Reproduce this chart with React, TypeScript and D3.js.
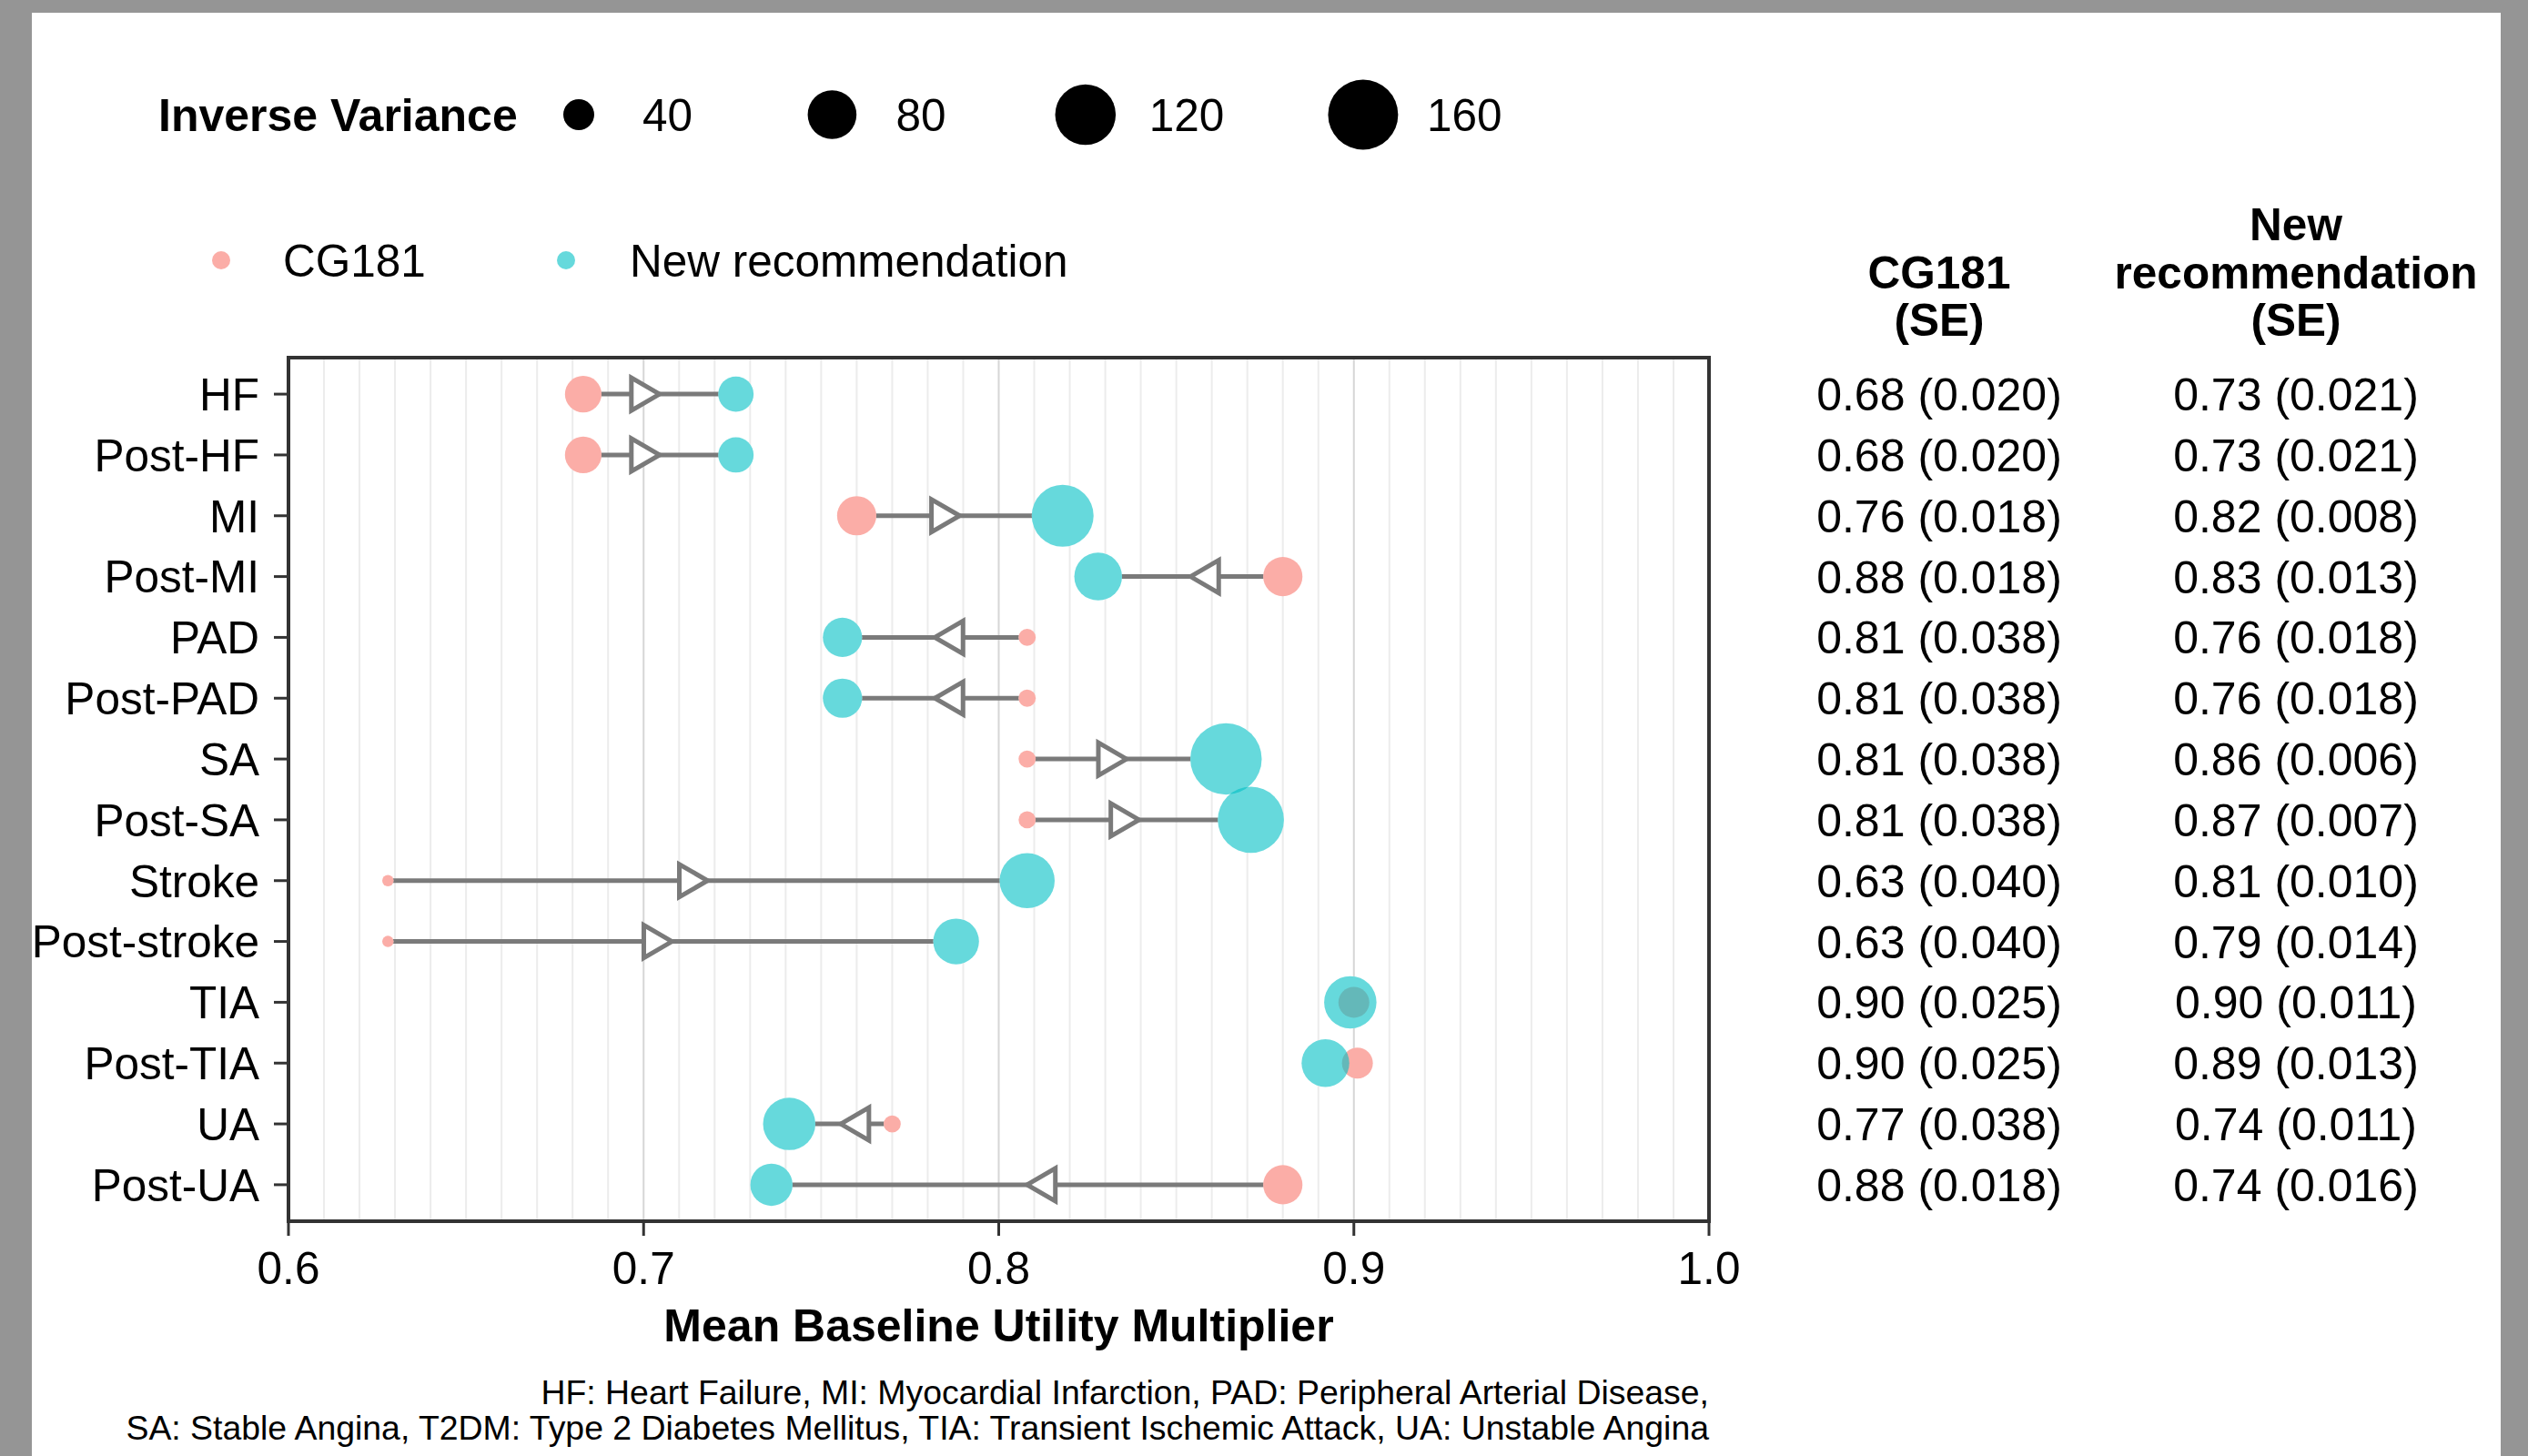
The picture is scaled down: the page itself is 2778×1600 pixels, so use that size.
import * as d3 from 'd3';

const conditions = ['HF', 'Post-HF', 'MI', 'Post-MI', 'PAD', 'Post-PAD', 'SA', 'Post-SA', 'Stroke', 'Post-stroke', 'TIA', 'Post-TIA', 'UA', 'Post-UA'];
const cg181Mean = [0.683, 0.683, 0.76, 0.88, 0.808, 0.808, 0.808, 0.808, 0.628, 0.628, 0.9, 0.901, 0.77, 0.88];
const cg181SE = [0.02, 0.02, 0.018, 0.018, 0.038, 0.038, 0.038, 0.038, 0.04, 0.04, 0.025, 0.025, 0.038, 0.018];
const newMean = [0.726, 0.726, 0.818, 0.828, 0.756, 0.756, 0.864, 0.871, 0.808, 0.788, 0.899, 0.892, 0.741, 0.736];
const newSE = [0.021, 0.021, 0.008, 0.013, 0.018, 0.018, 0.006, 0.007, 0.01, 0.014, 0.011, 0.013, 0.011, 0.016];
const xTicks = [0.6, 0.7, 0.8, 0.9, 1.0];
const sizeLegend = [40, 80, 120, 160];
const footnote = [
  'HF: Heart Failure, MI: Myocardial Infarction, PAD: Peripheral Arterial Disease,',
  'SA: Stable Angina, T2DM: Type 2 Diabetes Mellitus, TIA: Transient Ischemic Attack, UA: Unstable Angina',
];

const W = 2778;
const H = 1600;
const FONT = '"Liberation Sans", Arial, sans-serif';
const PINK = '#F8766D';
const CYAN = '#00BFC4';
const GREY = '#7a7a7a';
const FS = 49.5;

const plot = { left: 317, right: 1878, top: 393, bottom: 1342 };

export default function App() {
  const x = d3.scaleLinear().domain([0.6, 1.0]).range([plot.left, plot.right]);
  const y = d3.scalePoint<string>().domain(conditions).range([plot.top, plot.bottom]).padding(0.6);

  // point size: inverse variance (1/SE) -> area, like ggplot scale_size
  const inv = [...cg181SE, ...newSE].map(s => 1 / s);
  const t = d3.scaleLinear().domain(d3.extent(inv) as [number, number]).range([0, 1]);
  const diam = d3.scaleLinear().domain([0, 1]).range([12.5, 78.5]);
  const size = (v: number) => diam(Math.sqrt(Math.max(0, t(v))));

  const f2 = d3.format('.2f');
  const f3 = d3.format('.3f');
  const minorGrid = d3.range(61, 100).map(d => d / 100).filter(d => Math.round(d * 100) % 10 !== 0);

  const rows = conditions.map((c, i) => ({
    c,
    y: y(c) as number,
    x0: x(cg181Mean[i]),
    x1: x(newMean[i]),
    r0: size(1 / cg181SE[i]) / 2,
    r1: size(1 / newSE[i]) / 2,
    diff: newMean[i] - cg181Mean[i],
  }));

  // arrow head: closed, white fill, tip at the midpoint
  const arrow = (r: typeof rows[0]) => {
    const dir = r.diff > 0 ? 1 : -1;
    const tip = (r.x0 + r.x1) / 2;
    const len = 31;
    const half = 18;
    return `M${tip},${r.y}L${tip - dir * len},${r.y - half}L${tip - dir * len},${r.y + half}Z`;
  };

  // size legend layout
  let kx = 636;
  const keys = sizeLegend.map(v => {
    const k = { v, cx: kx, d: size(v) };
    kx += 70 + String(v).length * 26.7 + 155;
    return k;
  });

  const tableCols = [2131, 2523];

  return (
    <div style={{ position: 'absolute', left: 0, top: 0 }}>
      <svg width={W} height={H} style={{ display: 'block', fontFamily: FONT }}>
        <rect x={0} y={0} width={W} height={H} fill="#959595" />
        <rect x={35} y={14} width={2713} height={H - 14} fill="#ffffff" />

        {/* size legend */}
        <text x={174} y={126} dy="0.36em" fontSize={50} fontWeight="bold" fill="#000">Inverse Variance</text>
        {keys.map(k => (
          <g key={k.v}>
            <circle cx={k.cx} cy={126} r={k.d / 2} fill="#000" />
            <text x={k.cx + 70} y={126} dy="0.36em" fontSize={FS} fill="#000">{k.v}</text>
          </g>
        ))}

        {/* colour legend */}
        <circle cx={243} cy={286} r={10} fill={PINK} fillOpacity={0.6} />
        <text x={311} y={286} dy="0.36em" fontSize={FS} fill="#000">CG181</text>
        <circle cx={622} cy={286} r={10} fill={CYAN} fillOpacity={0.6} />
        <text x={692} y={286} dy="0.36em" fontSize={FS} fill="#000">New recommendation</text>

        {/* grid */}
        {minorGrid.map(d => (
          <line key={d} x1={x(d)} x2={x(d)} y1={plot.top} y2={plot.bottom} stroke="#ececec" strokeWidth={2} />
        ))}
        {xTicks.slice(1, -1).map(d => (
          <line key={d} x1={x(d)} x2={x(d)} y1={plot.top} y2={plot.bottom} stroke="#d6d6d6" strokeWidth={2} />
        ))}

        {/* segments and arrows */}
        {rows.map(r => (
          <line key={r.c} x1={r.x0} x2={r.x1} y1={r.y} y2={r.y} stroke={GREY} strokeWidth={5} />
        ))}
        {rows.filter(r => Math.abs(r.diff) > 0.012).map(r => (
          <path key={r.c} d={arrow(r)} fill="#fff" stroke={GREY} strokeWidth={5} strokeLinejoin="miter" />
        ))}

        {/* points */}
        {rows.map(r => (
          <g key={r.c}>
            <circle cx={r.x0} cy={r.y} r={r.r0} fill="#fff" />
            <circle cx={r.x1} cy={r.y} r={r.r1} fill="#fff" />
          </g>
        ))}
        {rows.map(r => (
          <circle key={r.c} cx={r.x0} cy={r.y} r={r.r0} fill={PINK} fillOpacity={0.6} />
        ))}
        {rows.map(r => (
          <circle key={r.c} cx={r.x1} cy={r.y} r={r.r1} fill={CYAN} fillOpacity={0.6} />
        ))}

        {/* frame */}
        <rect x={plot.left} y={plot.top} width={plot.right - plot.left} height={plot.bottom - plot.top}
          fill="none" stroke="#333" strokeWidth={4} />

        {/* y axis */}
        {rows.map(r => (
          <g key={r.c}>
            <line x1={plot.left - 16} x2={plot.left} y1={r.y} y2={r.y} stroke="#333" strokeWidth={3} />
            <text x={plot.left - 32} y={r.y} dy="0.36em" textAnchor="end" fontSize={FS} fill="#000">{r.c}</text>
          </g>
        ))}

        {/* x axis */}
        {xTicks.map(d => (
          <g key={d}>
            <line x1={x(d)} x2={x(d)} y1={plot.bottom} y2={plot.bottom + 16} stroke="#333" strokeWidth={3} />
            <text x={x(d)} y={1393} dy="0.36em" textAnchor="middle" fontSize={FS} fill="#000">{f2(d).slice(0, 3)}</text>
          </g>
        ))}
        <text x={(plot.left + plot.right) / 2} y={1456} dy="0.36em" textAnchor="middle" fontSize={50} fontWeight="bold" fill="#000">
          Mean Baseline Utility Multiplier
        </text>

        {/* footnote */}
        {footnote.map((l, i) => (
          <text key={i} x={plot.right} y={1530 + i * 39} dy="0.36em" textAnchor="end" fontSize={37.4} fill="#000">{l}</text>
        ))}

        {/* table */}
        <text x={tableCols[1]} y={246} dy="0.36em" textAnchor="middle" fontSize={FS} fontWeight="bold">New</text>
        <text x={tableCols[0]} y={299} dy="0.36em" textAnchor="middle" fontSize={FS} fontWeight="bold">CG181</text>
        <text x={tableCols[1]} y={299} dy="0.36em" textAnchor="middle" fontSize={FS} fontWeight="bold">recommendation</text>
        <text x={tableCols[0]} y={351} dy="0.36em" textAnchor="middle" fontSize={FS} fontWeight="bold">(SE)</text>
        <text x={tableCols[1]} y={351} dy="0.36em" textAnchor="middle" fontSize={FS} fontWeight="bold">(SE)</text>
        {rows.map((r, i) => (
          <g key={r.c}>
            <text x={tableCols[0]} y={r.y} dy="0.36em" textAnchor="middle" fontSize={50} fill="#000">
              {`${f2(cg181Mean[i])} (${f3(cg181SE[i])})`}
            </text>
            <text x={tableCols[1]} y={r.y} dy="0.36em" textAnchor="middle" fontSize={50} fill="#000">
              {`${f2(newMean[i])} (${f3(newSE[i])})`}
            </text>
          </g>
        ))}
      </svg>
    </div>
  );
}
